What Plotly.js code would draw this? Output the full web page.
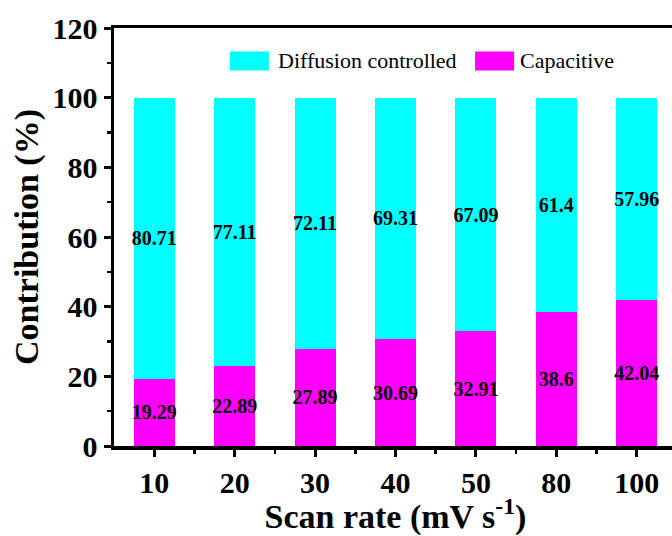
<!DOCTYPE html>
<html>
<head>
<meta charset="utf-8">
<script src="https://cdn.plot.ly/plotly-3.0.1.min.js"></script>
<style>
html,body{margin:0;padding:0;overflow:hidden;background:#fff;}
#chart{width:680px;height:536px;}
</style>
</head>
<body>
<div id="chart"></div>
<script>
const scanRates = ["10", "20", "30", "40", "50", "80", "100"];
const capacitive = [19.29, 22.89, 27.89, 30.69, 32.91, 38.6, 42.04];
const diffusion = [80.71, 77.11, 72.11, 69.31, 67.09, 61.4, 57.96];
const seriesNames = ["Diffusion controlled", "Capacitive"];
const yTicks = [0, 20, 40, 60, 80, 100, 120];

const idx = scanRates.map((_, i) => i);
const serif = "Liberation Serif, Times New Roman, serif";
const labelFont = {family: serif, size: 20, color: "#000", weight: "bold"};

const traces = [
  {
    type: "bar", name: seriesNames[1], x: idx, y: capacitive,
    marker: {color: "#FF00FF", line: {width: 0}}, width: 0.51,
    text: capacitive.map(String), textposition: "inside", insidetextanchor: "middle",
    textangle: 0, constraintext: "none", textfont: labelFont, insidetextfont: labelFont,
    hoverinfo: "skip", showlegend: false
  },
  {
    type: "bar", name: seriesNames[0], x: idx, y: diffusion,
    marker: {color: "#00FFFF", line: {width: 0}}, width: 0.51,
    text: diffusion.map(String), textposition: "inside", insidetextanchor: "middle",
    textangle: 0, constraintext: "none", textfont: labelFont, insidetextfont: labelFont,
    hoverinfo: "skip", showlegend: false
  }
];

const L = 114.3, R = 676.7, T = 27.5, B = 446;
const px = v => (v - L) / (R - L);
const py = v => (B - v) / (B - T);

const layout = {
  width: 680, height: 536,
  margin: {l: L, r: 680 - R, t: T, b: 536 - B, pad: 0},
  barmode: "stack",
  paper_bgcolor: "#fff", plot_bgcolor: "#fff",
  showlegend: false,
  font: {family: serif, color: "#000"},
  xaxis: {
    range: [-0.5, 6.5], tickmode: "array", tickvals: idx, ticktext: scanRates,
    ticks: "outside", ticklen: 7, tickwidth: 3, tickcolor: "#000",
    minor: {tickmode: "array", tickvals: idx.slice(0, -1).map(i => i + 0.5).concat([6.5]), ticks: "outside", ticklen: 4, tickwidth: 2.5, tickcolor: "#000"},
    showline: true, linewidth: 3.5, linecolor: "#000", mirror: true,
    showgrid: false, zeroline: false,
    tickfont: {family: serif, size: 30, color: "#000", weight: "bold"},
    title: {text: "Scan rate (mV s<sup>-1</sup>)", font: {family: serif, size: 34, color: "#000", weight: "bold"}, standoff: 7}
  },
  yaxis: {
    range: [0, 120], tickmode: "array", tickvals: yTicks,
    ticks: "outside", ticklen: 7, tickwidth: 3, tickcolor: "#000",
    minor: {dtick: 10, ticks: "outside", ticklen: 4, tickwidth: 2.5, tickcolor: "#000"},
    showline: true, linewidth: 3.5, linecolor: "#000",
    showgrid: false, zeroline: false,
    tickfont: {family: serif, size: 30, color: "#000", weight: "bold"},
    title: {text: "Contribution (%)", font: {family: serif, size: 34, color: "#000", weight: "bold"}, standoff: 4}
  },
  shapes: [
    {type: "rect", xref: "paper", yref: "paper", x0: px(230), x1: px(269), y0: py(70), y1: py(51), fillcolor: "#00FFFF", line: {width: 0}},
    {type: "rect", xref: "paper", yref: "paper", x0: px(475), x1: px(514), y0: py(70), y1: py(51), fillcolor: "#FF00FF", line: {width: 0}}
  ],
  annotations: [
    {xref: "paper", yref: "paper", x: px(276), y: py(60.5), xanchor: "left", yanchor: "middle", showarrow: false, text: seriesNames[0], font: {family: serif, size: 22, color: "#000"}},
    {xref: "paper", yref: "paper", x: px(518), y: py(60.5), xanchor: "left", yanchor: "middle", showarrow: false, text: seriesNames[1], font: {family: serif, size: 22, color: "#000"}}
  ]
};

Plotly.newPlot("chart", traces, layout, {displayModeBar: false, staticPlot: true});
</script>
</body>
</html>
